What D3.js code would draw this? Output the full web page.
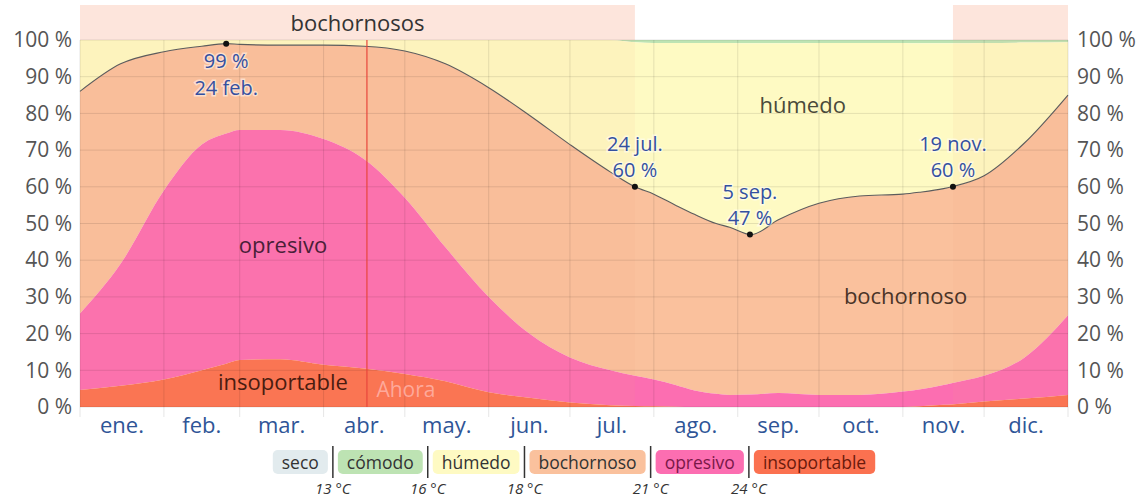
<!DOCTYPE html>
<html>
<head>
<meta charset="utf-8">
<script src="https://cdn.jsdelivr.net/npm/d3@7"></script>
<style>
  body { margin: 0; background: #fff; }
  svg { display: block; font-family: "Open Sans", "Noto Sans", sans-serif; }
</style>
</head>
<body>
<script>
// day of year for each sample point
var days = [0, 15, 31, 45, 54, 59, 74, 90, 105, 120, 135, 151, 166, 181, 196, 205, 212, 220, 227, 235, 240, 248, 258, 273, 288, 304, 310, 319, 322, 334, 349, 365];
// % of time with dew point above each threshold
var above16 = [100, 100, 100, 100, 100, 100, 100, 100, 100, 100, 100, 100, 100, 100, 100, 99.4, 99.2, 99.2, 99.2, 99.2, 99.2, 99.1, 99.1, 99.2, 99.2, 99.2, 99.1, 99.1, 99.1, 99.2, 99.3, 99.4];
var above18 = [86, 93.5, 96.8, 98.3, 99, 98.8, 98.6, 98.6, 98.3, 97, 93.5, 87, 79.5, 71.5, 64, 60, 58, 55, 52.5, 50, 49, 47, 51, 55.5, 57.5, 58, 58.5, 59.5, 60, 63, 72, 85];
var above21 = [25.5, 39, 59, 71.5, 74.5, 75.5, 75.5, 73, 67.5, 57, 43.5, 30, 20, 13.5, 10, 8.5, 7.5, 6, 4.5, 3.6, 3.3, 3.4, 3.8, 3.3, 3.3, 4.2, 4.8, 6, 6.5, 8.5, 13.5, 25];
var above24 = [4.6, 5.8, 7.5, 10, 11.8, 12.8, 13, 11.5, 10.5, 9, 7, 4, 2.5, 1.2, 0.5, 0.3, 0.2, 0.1, 0, 0, 0, 0, 0, 0, 0, 0, 0.2, 0.6, 0.7, 1.5, 2.3, 3.3];

var monthNames = ["ene.", "feb.", "mar.", "abr.", "may.", "jun.", "jul.", "ago.", "sep.", "oct.", "nov.", "dic."];
var monthStarts = [0, 31, 59, 90, 120, 151, 181, 212, 243, 273, 304, 334, 365];
var yTicks = [0, 10, 20, 30, 40, 50, 60, 70, 80, 90, 100];

var categories = ["seco", "cómodo", "húmedo", "bochornoso", "opresivo", "insoportable"];
var thresholds = ["13 °C", "16 °C", "18 °C", "21 °C", "24 °C"];
var colors = {
  "seco": "#e2ebee", "cómodo": "#bde3b3", "húmedo": "#fefac3",
  "bochornoso": "#fac19d", "opresivo": "#fc6eb1", "insoportable": "#fb7150"
};

// muggy period bands (days) and annotated extremes
var muggyBands = [[0, 205], [322.5, 365]];
var notes = [
  {day: 54, value: 99, lines: ["99 %", "24 feb."], below: true},
  {day: 205, value: 60, lines: ["24 jul.", "60 %"], below: false},
  {day: 247.5, value: 47, lines: ["5 sep.", "47 %"], below: false},
  {day: 322.5, value: 60, lines: ["19 nov.", "60 %"], below: false}
];
var nowDay = 106;

var W = 1147, H = 498;
var plotLeft = 80, plotRight = 1068, plotTop = 40, plotBottom = 407;

var svg = d3.select("body").append("svg")
  .attr("width", W)
  .attr("height", H);

var x = d3.scaleLinear().domain([0, 365]).range([plotLeft, plotRight]);
var y = d3.scaleLinear().domain([0, 100]).range([plotBottom, plotTop]);

var pts = days.map(function(d, i) {
  return {day: d, a16: above16[i], a18: above18[i], a21: above21[i], a24: above24[i]};
});

// top band
svg.selectAll(".band")
  .data(muggyBands)
  .enter().append("rect")
  .attr("x", d => x(d[0]))
  .attr("width", d => x(d[1]) - x(d[0]))
  .attr("y", 5)
  .attr("height", plotTop - 5)
  .attr("fill", "#fde5dc");

svg.append("text")
  .attr("x", (x(0) + x(205)) / 2)
  .attr("y", 31)
  .attr("text-anchor", "middle")
  .attr("font-size", 22)
  .attr("fill", "#333")
  .text("bochornosos");

// stacked areas
function band(lo, hi) {
  return d3.area()
    .curve(d3.curveMonotoneX)
    .x(d => x(d.day))
    .y0(d => y(lo(d)))
    .y1(d => y(hi(d)));
}
var layers = [
  {name: "cómodo", lo: d => d.a16, hi: d => 100},
  {name: "húmedo", lo: d => d.a18, hi: d => d.a16},
  {name: "bochornoso", lo: d => d.a21, hi: d => d.a18},
  {name: "opresivo", lo: d => d.a24, hi: d => d.a21},
  {name: "insoportable", lo: d => 0, hi: d => d.a24}
];
svg.append("g").selectAll("path")
  .data(layers)
  .enter().append("path")
  .attr("d", l => band(l.lo, l.hi)(pts))
  .attr("fill", l => colors[l.name]);

// muggy shading over the plot
svg.selectAll(".shade")
  .data(muggyBands)
  .enter().append("rect")
  .attr("x", d => x(d[0]))
  .attr("width", d => x(d[1]) - x(d[0]))
  .attr("y", plotTop)
  .attr("height", plotBottom - plotTop)
  .attr("fill", "#f5a080")
  .attr("opacity", 0.08);

// grid
var grid = svg.append("g").attr("stroke", "#000").attr("stroke-opacity", 0.1);
grid.selectAll(".h").data(yTicks).enter().append("line")
  .attr("x1", plotLeft).attr("x2", plotRight)
  .attr("y1", d => y(d)).attr("y2", d => y(d));
grid.selectAll(".v").data(monthStarts).enter().append("line")
  .attr("x1", d => x(d)).attr("x2", d => x(d))
  .attr("y1", plotTop).attr("y2", plotBottom + 10);

// dew point 18 line
svg.append("path")
  .datum(pts)
  .attr("d", d3.line().curve(d3.curveMonotoneX).x(d => x(d.day)).y(d => y(d.a18)))
  .attr("fill", "none")
  .attr("stroke", "#5c5c5c")
  .attr("stroke-width", 1.1);

// now line
svg.append("line")
  .attr("x1", x(nowDay)).attr("x2", x(nowDay))
  .attr("y1", plotTop).attr("y2", plotBottom)
  .attr("stroke", "#e8463c")
  .attr("stroke-width", 1.2);

// y axes
var yAxisL = svg.append("g")
  .attr("transform", "translate(" + (plotLeft - 8) + ",0)")
  .call(d3.axisLeft(y).tickValues(yTicks).tickSize(0).tickFormat(d => d + " %"));
var yAxisR = svg.append("g")
  .attr("transform", "translate(" + (plotRight + 9) + ",0)")
  .call(d3.axisRight(y).tickValues(yTicks).tickSize(0).tickFormat(d => d + " %"));
[yAxisL, yAxisR].forEach(function(a) {
  a.select(".domain").remove();
  a.selectAll("text")
    .attr("x", 0)
    .attr("font-family", "\"Open Sans\", \"Noto Sans\", sans-serif")
    .attr("font-size", 21)
    .attr("fill", "#555");
});

// month labels
var mid = monthNames.map((m, i) => (monthStarts[i] + monthStarts[i + 1]) / 2);
svg.append("g").selectAll("text")
  .data(monthNames)
  .enter().append("text")
  .attr("x", (d, i) => x(mid[i]))
  .attr("y", 433)
  .attr("text-anchor", "middle")
  .attr("font-size", 22)
  .attr("fill", "#2f5597")
  .text(d => d);

// area labels
var areaLabels = [
  {text: "húmedo", day: 267, v: 80, color: "#4a4a3a"},
  {text: "opresivo", day: 75, v: 42, color: "#4a2038"},
  {text: "bochornoso", day: 305, v: 28, color: "#4a3428"},
  {text: "insoportable", day: 75, v: 4.5, color: "#4a1c10"}
];
svg.append("g").selectAll("text")
  .data(areaLabels)
  .enter().append("text")
  .attr("x", d => x(d.day))
  .attr("y", d => y(d.v))
  .attr("text-anchor", "middle")
  .attr("font-size", 22)
  .attr("fill", d => d.color)
  .text(d => d.text);

svg.append("text")
  .attr("x", x(nowDay) + 39)
  .attr("y", y(2.8))
  .attr("text-anchor", "middle")
  .attr("font-size", 21)
  .attr("fill", "#ffb3a8")
  .attr("fill-opacity", 0.85)
  .text("Ahora");

// annotations
var ann = svg.append("g");
notes.forEach(function(n) {
  var cx = x(n.day), cy = y(n.value);
  n.lines.forEach(function(t, i) {
    var ty = n.below ? cy + 24 + i * 27 : cy - 36 + i * 26;
    ann.append("text")
      .attr("x", cx)
      .attr("y", ty)
      .attr("text-anchor", "middle")
      .attr("font-size", 20)
      .attr("fill", "#3450a0")
      .attr("stroke", "rgba(255,255,255,0.5)")
      .attr("stroke-width", 3)
      .attr("paint-order", "stroke")
      .text(t);
  });
  ann.append("circle")
    .attr("cx", cx).attr("cy", cy).attr("r", 3)
    .attr("fill", "#111");
});

// legend
var legend = svg.append("g");
var pad = 9, gap = 4, lx = 0, boxes = [];
categories.forEach(function(c, i) {
  var t = legend.append("text")
    .attr("font-size", 17.5)
    .attr("fill", c == "opresivo" ? "#7a1848" : (c == "insoportable" ? "#6a1a0c" : "#333"))
    .text(c);
  var w = t.node().getComputedTextLength();
  boxes.push({name: c, x: lx, w: w + 2 * pad, t: t});
  lx += w + 2 * pad + gap * 2 + 2;
});
var totalW = lx - gap * 2 - 2;
var off = (plotLeft + plotRight) / 2 - totalW / 2;
boxes.forEach(function(b, i) {
  legend.insert("rect", "text")
    .attr("x", off + b.x).attr("y", 450)
    .attr("width", b.w).attr("height", 24)
    .attr("rx", 5)
    .attr("fill", colors[b.name]);
  b.t.attr("x", off + b.x + pad).attr("y", 468.5);
  if (i > 0) {
    var sx = off + b.x - gap - 1;
    legend.append("line")
      .attr("x1", sx).attr("x2", sx)
      .attr("y1", 446).attr("y2", 478)
      .attr("stroke", "#333").attr("stroke-width", 1.5);
    legend.append("text")
      .attr("x", sx)
      .attr("y", 494)
      .attr("text-anchor", "middle")
      .attr("font-size", 15)
      .attr("font-style", "italic")
      .attr("fill", "#333")
      .text(thresholds[i - 1]);
  }
});
</script>
</body>
</html>
